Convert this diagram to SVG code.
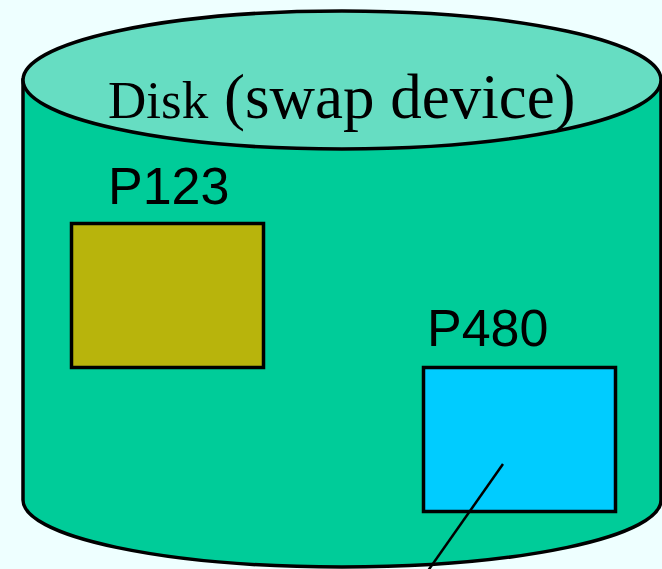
<svg xmlns="http://www.w3.org/2000/svg" width="662" height="569" viewBox="0 0 662 569">
  <style>
    .outline { stroke: #000; stroke-width: 3.5; }
    .label { font-family: "Liberation Sans", Arial, sans-serif; font-size: 52px; fill: #000; }
    .title { font-family: "Liberation Serif", "Times New Roman", serif; fill: #000; }
    .wire { stroke: #000; stroke-width: 2.5; fill: none; }
  </style>
  <rect x="0" y="0" width="662" height="569" fill="#EEFFFF"/>

  <!-- swap disk drawn as a cylinder -->
  <g id="disk">
    <path class="outline" fill="#00CC99" d="M23,80 L23,500 A319,67 0 0 0 661,500 L661,80 Z"/>
    <ellipse class="outline" cx="342" cy="80" rx="319" ry="69" fill="#66DDC2"/>
    <text class="title" y="118"><tspan x="108" font-size="53">Disk</tspan><tspan x="224" font-size="63">(swap device)</tspan></text>
  </g>

  <g id="p123">
    <text class="label" x="108" y="204">P123</text>
    <rect class="outline" x="71.5" y="223.5" width="192" height="144" fill="#B8B40C"/>
  </g>

  <g id="p480">
    <text class="label" x="427" y="346">P480</text>
    <rect class="outline" x="423.5" y="367.5" width="192" height="144" fill="#00CCFF"/>
  </g>

  <g id="connectors">
    <line class="wire" x1="503" y1="464" x2="425" y2="575"/>
  </g>
</svg>
